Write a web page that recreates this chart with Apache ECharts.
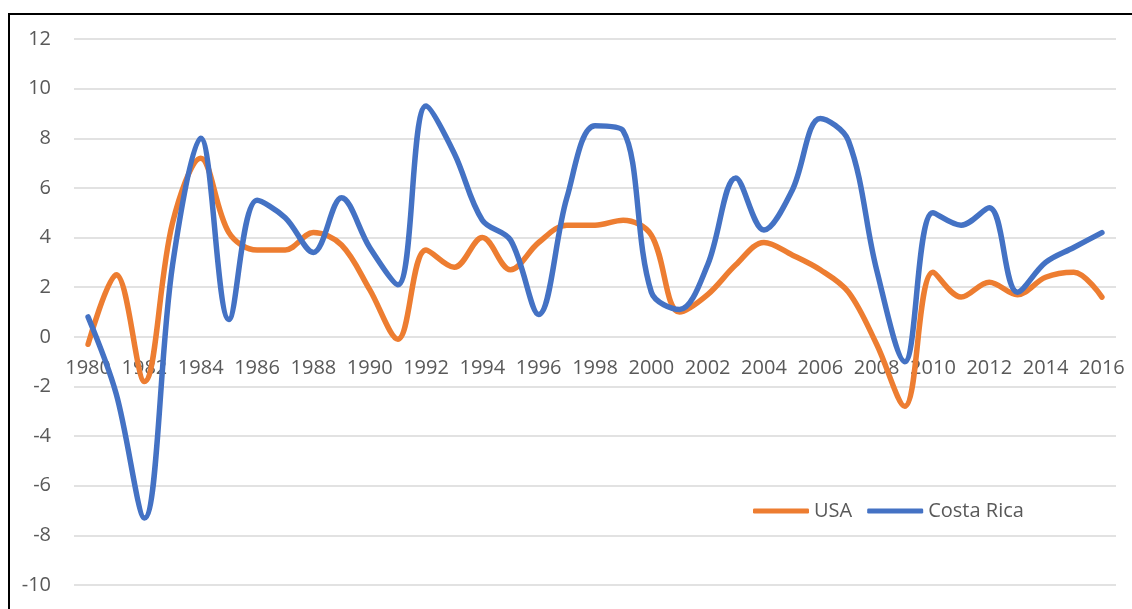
<!DOCTYPE html>
<html>
<head>
<meta charset="utf-8">
<script src="https://cdn.jsdelivr.net/npm/echarts@6/dist/echarts.min.js"></script>
<style>
  html, body { margin: 0; padding: 0; background: #fff; }
  #frame { position: absolute; left: 8px; top: 13px; right: 0; bottom: 0; border-top: 2px solid #000; border-left: 2px solid #000; }
  #chart { position: absolute; left: 0; top: 0; width: 1132px; height: 609px; }
</style>
</head>
<body>
<div id="frame"></div>
<div id="chart"></div>
<script>
var years = [];
for (var y = 1980; y <= 2016; y++) years.push(String(y));

var usa = [-0.3, 2.5, -1.8, 4.6, 7.2, 4.2, 3.5, 3.5, 4.2, 3.7, 1.9, -0.1, 3.5, 2.8, 4.0, 2.7, 3.8, 4.5, 4.5, 4.7, 4.1, 1.0, 1.7, 2.9, 3.8, 3.3, 2.7, 1.8, -0.3, -2.8, 2.6, 1.6, 2.2, 1.7, 2.4, 2.6, 1.6];
var costaRica = [0.8, -2.3, -7.3, 2.9, 8.0, 0.7, 5.5, 4.8, 3.4, 5.6, 3.6, 2.1, 9.3, 7.4, 4.7, 3.9, 0.9, 5.6, 8.5, 8.3, 1.8, 1.1, 2.9, 6.4, 4.3, 5.9, 8.8, 7.9, 2.7, -1.0, 5.0, 4.5, 5.2, 1.8, 3.0, 3.6, 4.2];

var textColor = '#595959';
var font = 'Open Sans';

// grid: top 39, bottom edge at 585, zero sits 12/22 of the way down
var gridTop = 39, gridBottom = 585;
var zeroOffset = -(gridBottom - (gridTop + (gridBottom - gridTop) * 12 / 22));

var chart = echarts.init(document.getElementById('chart'));
chart.setOption({
  animation: false,
  color: ['#ED7D31', '#4472C4'],
  grid: { left: 74, right: 16, top: gridTop, bottom: 609 - gridBottom, outerBoundsMode: 'none' },
  legend: {
    left: 748, top: 496,
    itemWidth: 56, itemHeight: 5, itemGap: 15,
    textStyle: { color: textColor, fontSize: 20, fontFamily: font },
    data: [
      { name: 'USA', icon: 'roundRect' },
      { name: 'Costa Rica', icon: 'roundRect' }
    ]
  },
  xAxis: {
    type: 'category',
    data: years,
    boundaryGap: true,
    offset: zeroOffset,
    axisLine: { show: false, onZero: false },
    axisTick: { show: false },
    axisLabel: { interval: 1, color: textColor, fontSize: 20, fontFamily: font, margin: 21 }
  },
  yAxis: {
    type: 'value',
    min: -10, max: 12, interval: 2,
    axisLine: { show: false },
    axisTick: { show: false },
    axisLabel: { color: textColor, fontSize: 20, fontFamily: font, margin: 23 },
    splitLine: { lineStyle: { color: '#d9d9d9', width: 1.5 } }
  },
  series: [
    { name: 'USA', type: 'line', data: usa, smooth: 0.35, showSymbol: false, lineStyle: { width: 5.5, cap: 'round' } },
    { name: 'Costa Rica', type: 'line', data: costaRica, smooth: 0.35, showSymbol: false, lineStyle: { width: 5.5, cap: 'round' } }
  ]
});
</script>
</body>
</html>
